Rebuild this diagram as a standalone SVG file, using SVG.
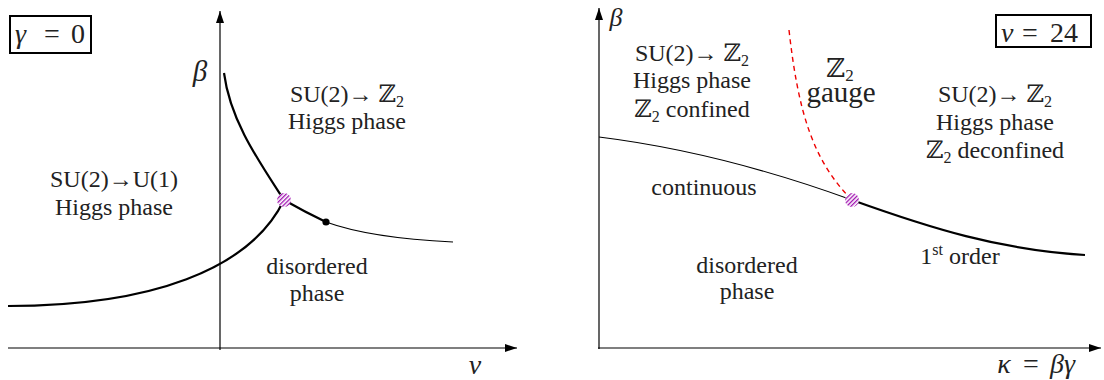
<svg xmlns="http://www.w3.org/2000/svg" width="1104" height="380" viewBox="0 0 1104 380">
<style>
text{font-family:'Liberation Serif','Times New Roman',Times,'DejaVu Serif',serif;fill:#222}
.t{font-size:24px;text-anchor:middle}
.m{font-size:28px;font-style:italic}
.n{font-size:28px}
.z{font-family:'DejaVu Serif','DejaVu Sans',serif}
.s{font-size:16px}
.ax{stroke:#000;stroke-width:1.2;fill:none}
.thin{stroke:#000;stroke-width:1.1;fill:none}
.thick{stroke:#000;stroke-width:2.2;fill:none}
.dash{stroke:#e00;stroke-width:1.4;fill:none;stroke-dasharray:5 4}
.box{fill:none;stroke:#000;stroke-width:2}
.cp{fill:url(#hatch)}
</style>
<defs>
<marker id="arr" viewBox="0 0 12 8" refX="12" refY="4" markerWidth="12" markerHeight="8" markerUnits="userSpaceOnUse" orient="auto">
<path d="M0,0 L12,4 L0,8 Z" fill="#000"/>
</marker>
<pattern id="hatch" patternUnits="userSpaceOnUse" width="3" height="3" patternTransform="rotate(-45)">
<rect width="3" height="3" fill="#fff"/>
<rect width="3" height="1.3" fill="#a010b0"/>
</pattern>
</defs>
<rect width="1104" height="380" fill="#fff"/>

<g id="left-panel">
<g id="left-axes">
<line class="ax" x1="220" y1="350" x2="220" y2="11" marker-end="url(#arr)"/>
<line class="ax" x1="8" y1="348" x2="517" y2="348" marker-end="url(#arr)"/>
<text class="m" x="200" y="81" text-anchor="middle" style="font-size:29px">β</text>
<text class="m" x="475" y="374" text-anchor="middle">v</text>
</g>
<g id="left-box">
<rect class="box" x="10" y="16" width="81" height="37"/>
<text class="m" x="15" y="43" style="font-size:28px">γ</text>
<text class="n" x="52" y="43" text-anchor="middle" style="font-size:28px">=</text>
<text class="n" x="71" y="43" style="font-size:28px">0</text>
</g>
<g id="left-curves">
<path class="thick" d="M224,73 C230,120 258,160 284,200"/>
<path class="thick" d="M8,306 C150,306 250,270 284,200"/>
<path class="thick" d="M284,200 Q305,212 326,222"/>
<path class="thin" d="M326,222 Q370,238 453,242"/>
<circle class="cp" cx="284" cy="200" r="7"/>
<circle cx="326" cy="222" r="3.6" fill="#000"/>
</g>
<g id="left-u1-phase">
<text class="t" x="114" y="187">SU(2)→U(1)</text>
<text class="t" x="114" y="215">Higgs phase</text>
</g>
<g id="left-z2-phase">
<text class="t" x="347" y="102">SU(2)→ <tspan class="z">ℤ</tspan><tspan class="s" dy="5">2</tspan></text>
<text class="t" x="347" y="129">Higgs phase</text>
</g>
<g id="left-disordered">
<text class="t" x="317" y="274">disordered</text>
<text class="t" x="317" y="301">phase</text>
</g>
</g>

<g id="right-panel">
<g id="right-axes">
<line class="ax" x1="599" y1="349" x2="599" y2="8" marker-end="url(#arr)"/>
<line class="ax" x1="598" y1="348" x2="1101" y2="348" marker-end="url(#arr)"/>
<text class="m" x="616" y="26" text-anchor="middle" style="font-size:26px">β</text>
<text class="m" x="1004" y="373" text-anchor="middle">κ</text>
<text class="n" x="1031" y="373" text-anchor="middle">=</text>
<text class="m" x="1050" y="373">βγ</text>
</g>
<g id="right-box">
<rect class="box" x="996" y="15" width="95" height="32"/>
<text class="m" x="1001" y="42" style="font-size:28px">v</text>
<text class="n" x="1030" y="42" text-anchor="middle" style="font-size:28px">=</text>
<text class="n" x="1050" y="42" style="font-size:28px">24</text>
</g>
<g id="right-curves">
<path class="thin" d="M599,137 Q720,152 852,200"/>
<path class="thick" d="M852,200 C930,228 1000,250 1085,255"/>
<path class="dash" d="M789,30 C798,110 812,160 852,200"/>
<circle class="cp" cx="852" cy="200" r="7"/>
</g>
<g id="right-confined">
<text class="t" x="692" y="61">SU(2)→ <tspan class="z">ℤ</tspan><tspan class="s" dy="5">2</tspan></text>
<text class="t" x="692" y="88">Higgs phase</text>
<text class="t" x="692" y="117"><tspan class="z">ℤ</tspan><tspan class="s" dy="5">2</tspan><tspan dy="-5"> confined</tspan></text>
</g>
<g id="right-gauge">
<text class="t" x="840" y="77" style="font-size:26px"><tspan class="z">ℤ</tspan><tspan dy="4" style="font-size:17px">2</tspan></text>
<text class="t" x="841" y="102" style="font-size:29px">gauge</text>
</g>
<g id="right-deconfined">
<text class="t" x="995" y="102">SU(2)→ <tspan class="z">ℤ</tspan><tspan class="s" dy="5">2</tspan></text>
<text class="t" x="995" y="130">Higgs phase</text>
<text class="t" x="995" y="158"><tspan class="z">ℤ</tspan><tspan class="s" dy="5">2</tspan><tspan dy="-5"> deconfined</tspan></text>
</g>
<g id="right-labels">
<text class="t" x="704" y="195">continuous</text>
<text class="t" x="747" y="273">disordered</text>
<text class="t" x="747" y="299">phase</text>
<text class="t" x="960" y="264">1<tspan class="s" dy="-9">st</tspan><tspan dy="9"> order</tspan></text>
</g>
</g>
</svg>
